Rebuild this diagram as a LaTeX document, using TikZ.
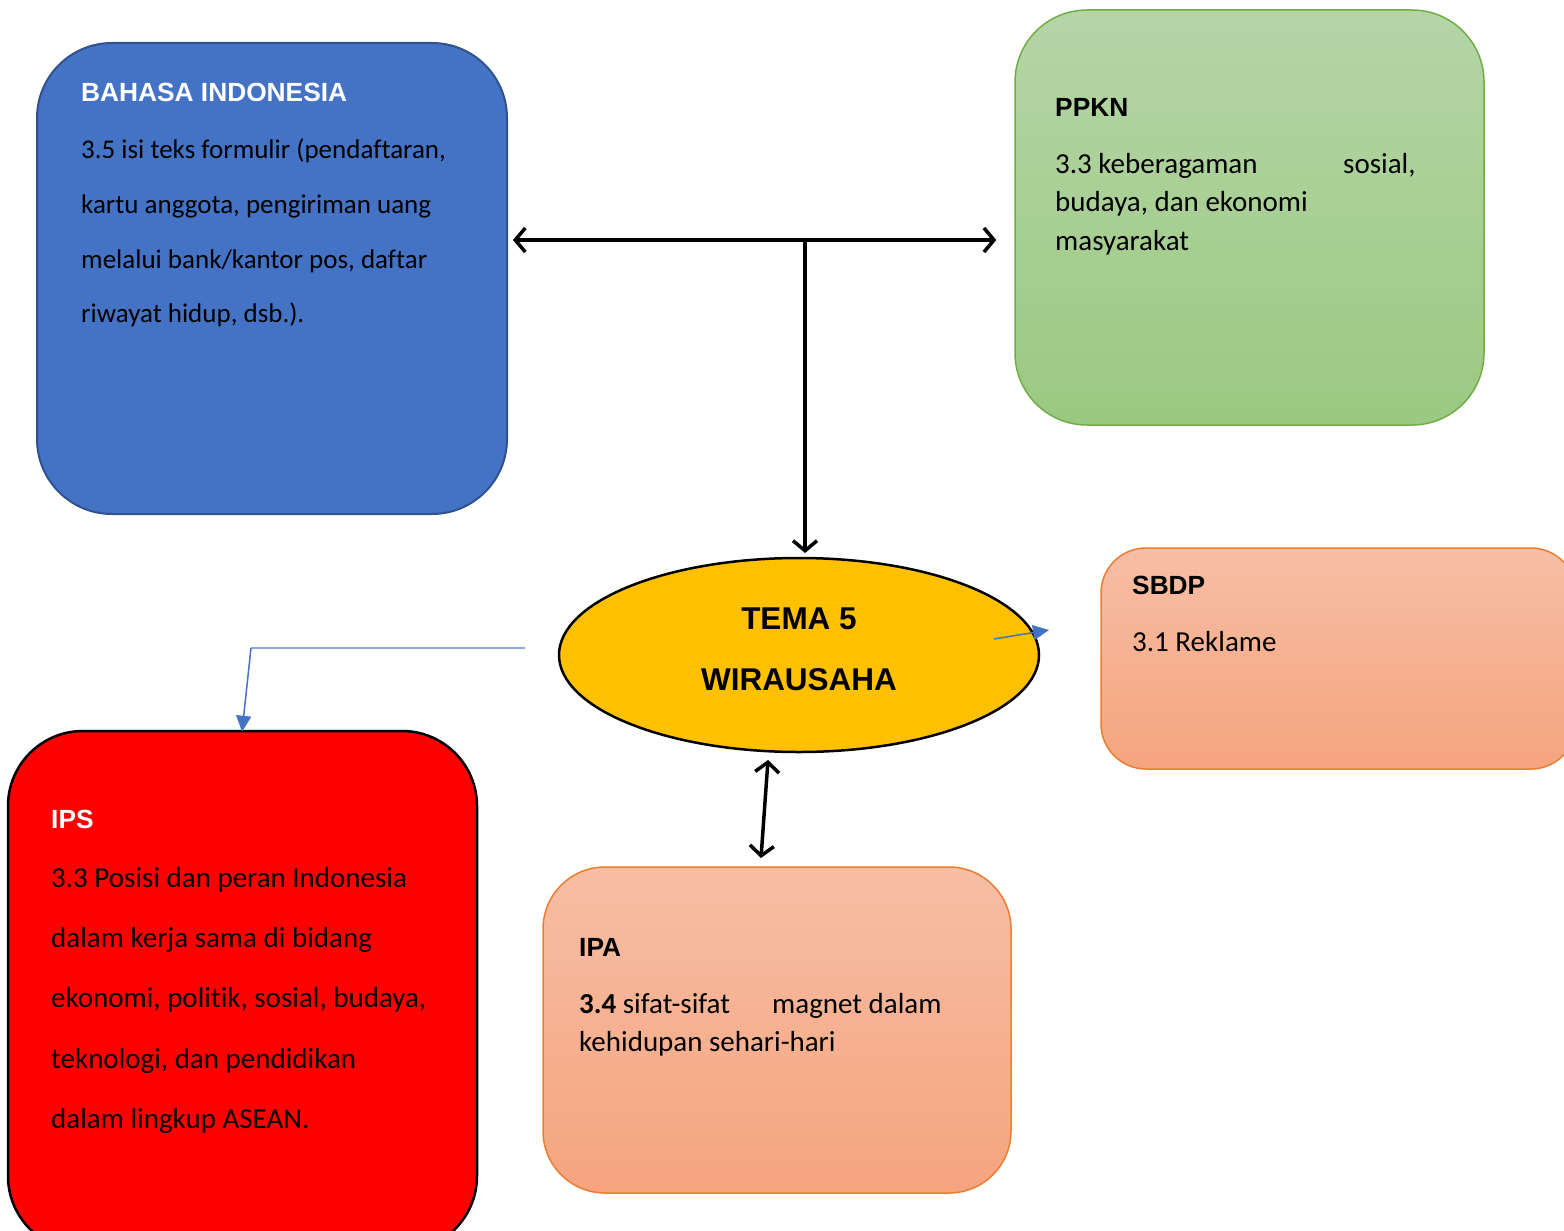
\documentclass[tikz,border=0pt]{standalone}
\usepackage{fontspec}
\setmainfont{Carlito}[Ligatures={NoCommon}]
\newfontfamily\arialfont{Liberation Sans}
\usetikzlibrary{arrows.meta,shapes.geometric}
\definecolor{biFill}{HTML}{4472C4}
\definecolor{biLine}{HTML}{2F528F}
\definecolor{grTop}{HTML}{B5D5A7}
\definecolor{grBot}{HTML}{9BC981}
\definecolor{grLine}{HTML}{70AD47}
\definecolor{orTop}{HTML}{F7BEA5}
\definecolor{orBot}{HTML}{F5A47E}
\definecolor{orLine}{HTML}{ED7D31}
\definecolor{temaFill}{HTML}{FFC000}
\definecolor{blueArrow}{HTML}{4472C4}
\definecolor{blueLine}{HTML}{8EA9DB}
\tikzset{
  box/.style={rectangle, inner sep=0pt},
  txt/.style={anchor=base west, inner sep=0pt, font=\fontsize{29}{35}\selectfont},
  bitxt/.style={anchor=base west, inner sep=0pt, font=\fontsize{27}{32}\selectfont},
  ttl/.style={anchor=base west, inner sep=0pt, font=\arialfont\bfseries\fontsize{26.3}{32}\selectfont},
  blk/.style={line width=3.5pt, black, {Straight Barb[length=10pt,width=24pt,line width=3.5pt]}-{Straight Barb[length=10pt,width=24pt,line width=3.5pt]}},
  blkone/.style={line width=3.5pt, black, -{Straight Barb[length=10pt,width=24pt,line width=3.5pt]}},
  bluearr/.style={line width=1.5pt, blueArrow, -{Triangle[length=16pt,width=15pt]}}
}
\begin{document}
\begin{tikzpicture}[x=1pt,y=-1pt]
\useasboundingbox (0,0) rectangle (1564,1231);
% boxes
\node[box, fill=biFill, draw=biLine, line width=2pt, rounded corners=75pt, minimum width=470pt, minimum height=471pt] (bi) at (272,278.5) {};
\node[box, top color=grTop, bottom color=grBot, draw=grLine, line width=1.5pt, rounded corners=72pt, minimum width=469pt, minimum height=415pt] (pp) at (1249.5,217.5) {};
\node[box, top color=orTop, bottom color=orBot, draw=orLine, line width=1.5pt, rounded corners=45pt, minimum width=475pt, minimum height=221pt] (sb) at (1338.5,658.5) {};
\node[box, top color=orTop, bottom color=orBot, draw=orLine, line width=1.5pt, rounded corners=62pt, minimum width=468pt, minimum height=326pt] (ipa) at (777,1030) {};
\node[box, fill=red, draw=black, line width=2.5pt, rounded corners=75pt, minimum width=469pt, minimum height=520pt] (ips) at (242.5,991) {};
\node[ellipse, fill=temaFill, draw=black, line width=2.5pt, minimum width=480pt, minimum height=194pt, inner sep=0pt] (tm) at (799,655) {};

% texts
\node[ttl, text=white] (biT) at (81,102) {BAHASA INDONESIA};
\node[bitxt] (bi1) at (81,158) {3.5 isi teks formulir (pendaftaran,};
\node[bitxt] (bi2) at (81,213) {kartu anggota, pengiriman uang};
\node[bitxt] (bi3) at (81,268) {melalui bank/kantor pos, daftar};
\node[bitxt] (bi4) at (81,322) {riwayat hidup, dsb.).};

\node[ttl] (ppT) at (1055,116) {PPKN};
\node[txt] (pp1) at (1055,173) {3.3 keberagaman};
\node[txt] (pp1b) at (1343,173) {sosial,};
\node[txt] (pp2) at (1055,211) {budaya, dan ekonomi};
\node[txt] (pp3) at (1055,250) {masyarakat};

\node[ttl] (sbT) at (1132,594) {SBDP};
\node[txt] (sb1) at (1132,651) {3.1 Reklame};

\node[anchor=base, inner sep=0pt, font=\arialfont\bfseries\fontsize{31.5}{36}\selectfont] (tm1) at (799,629) {TEMA 5};
\node[anchor=base, inner sep=0pt, font=\arialfont\bfseries\fontsize{31.5}{36}\selectfont] (tm2) at (799,690) {WIRAUSAHA};

\node[ttl] (ipaT) at (579,956) {IPA};
\node[txt] (ipa1) at (579,1013) {\textbf{3.4} sifat-sifat};
\node[txt] (ipa1b) at (772,1013) {magnet dalam};
\node[txt] (ipa2) at (579,1051) {kehidupan sehari-hari};

\node[ttl, text=white] (ipsT) at (51,828) {IPS};
\node[txt] (ips1) at (51,887) {3.3 Posisi dan peran Indonesia};
\node[txt] (ips2) at (51,947) {dalam kerja sama di bidang};
\node[txt] (ips3) at (51,1007) {ekonomi, politik, sosial, budaya,};
\node[txt] (ips4) at (51,1068) {teknologi, dan pendidikan};
\node[txt] (ips5) at (51,1128) {dalam lingkup ASEAN.};

% connectors
\coordinate (hy) at (0,240);
\coordinate (vt) at (805,242);
\coordinate (vb) at (805,553);
\draw[blk] ([xshift=5pt]bi.east |- hy) -- ([xshift=-18pt]pp.west |- hy);
\draw[blkone] (vt) -- (vb);
\coordinate (ia) at (768,760);
\coordinate (ib) at (761,858);
\draw[blk] (ia) -- (ib);
\coordinate (bl1) at (251,648);
\coordinate (bl2) at (525,648);
\draw[blueLine, line width=2pt] (bl1) -- (bl2);
\draw[bluearr] (bl1) -- ([xshift=-9pt,yshift=-2pt]ips.north -| bl1);
\coordinate (sa) at (994,639);
\draw[bluearr] (sa) -- (1049,630);
\end{tikzpicture}
\end{document}
